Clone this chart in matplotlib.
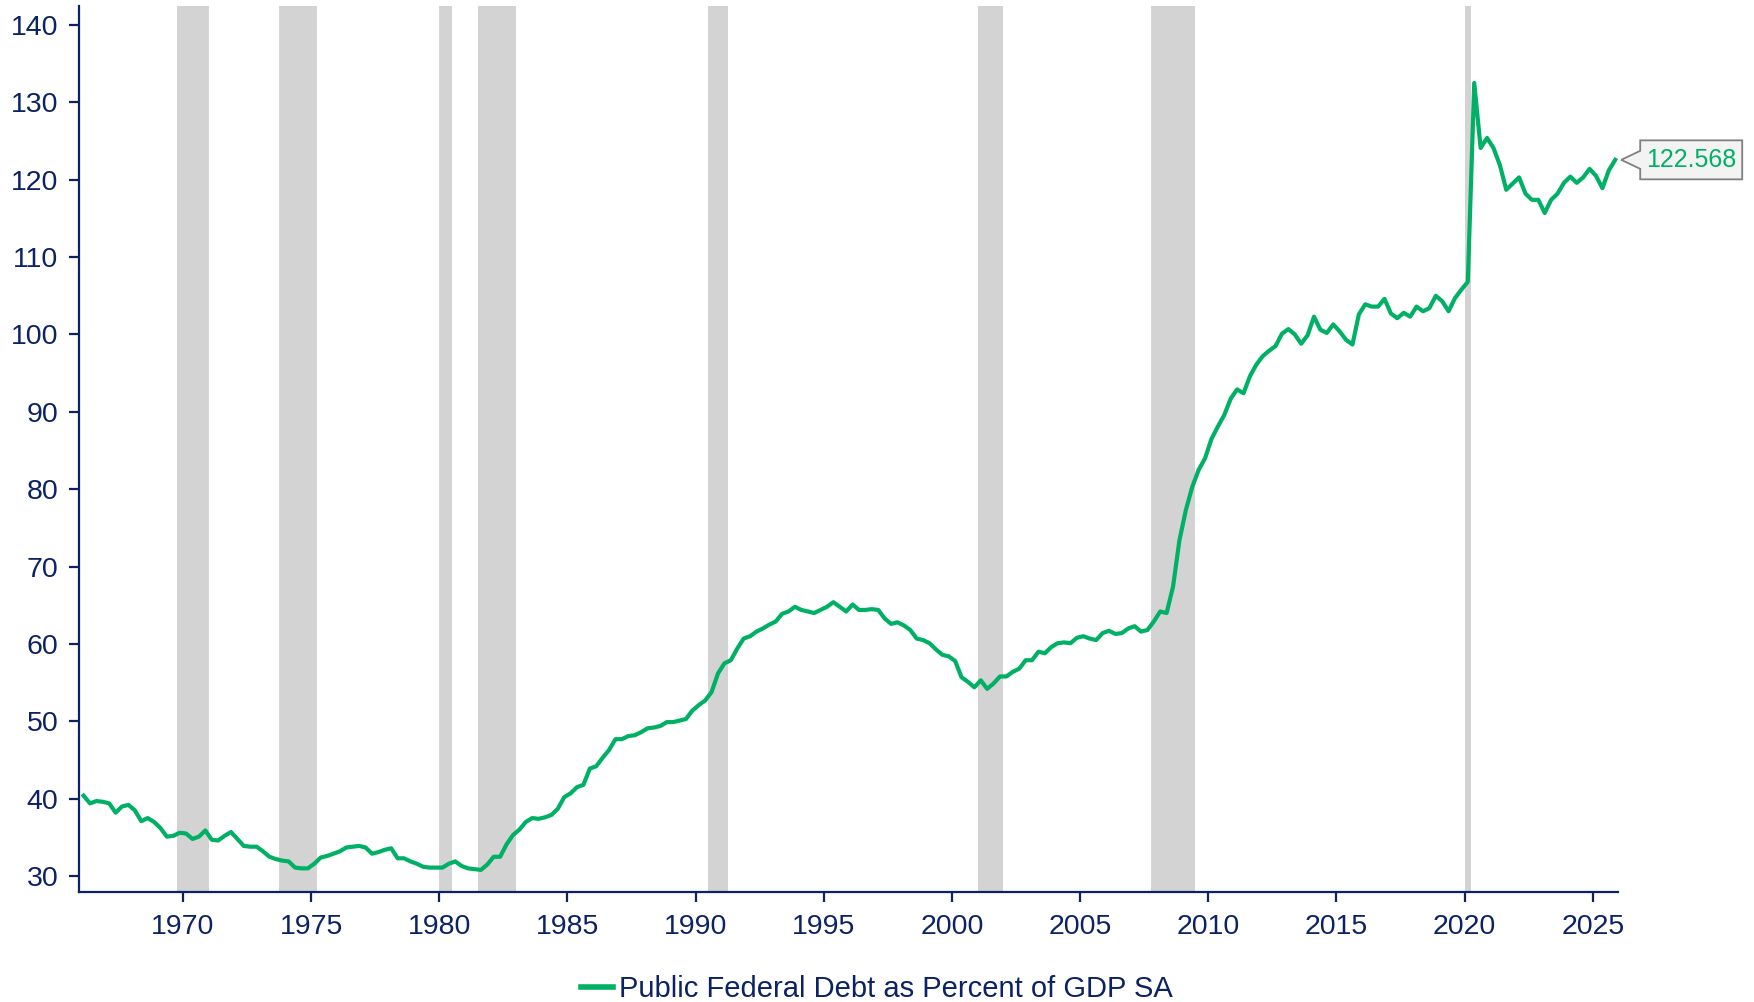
import numpy as np
import pandas as pd
import matplotlib
matplotlib.use("Agg")
import matplotlib.pyplot as plt
from matplotlib.lines import Line2D
from matplotlib.patches import Polygon

# quarterly, 1966Q1 .. 2025Q4 (one row per year)
debt = [
    40.4, 39.4, 39.7, 39.6,   # 1966
    39.4, 38.2, 39.0, 39.2,
    38.5, 37.1, 37.5, 37.0,
    36.2, 35.1, 35.2, 35.6,
    35.5, 34.8, 35.1, 35.9,   # 1970
    34.7, 34.6, 35.2, 35.7,
    34.8, 33.9, 33.8, 33.8,
    33.2, 32.5, 32.2, 32.0,
    31.9, 31.1, 31.0, 31.0,
    31.6, 32.4, 32.6, 32.9,   # 1975
    33.2, 33.7, 33.8, 33.9,
    33.7, 32.9, 33.1, 33.4,
    33.6, 32.3, 32.3, 31.9,
    31.6, 31.2, 31.1, 31.1,
    31.1, 31.6, 31.9, 31.3,   # 1980
    31.0, 30.9, 30.8, 31.5,
    32.5, 32.5, 34.1, 35.3,
    36.0, 37.0, 37.5, 37.4,
    37.6, 37.9, 38.7, 40.2,
    40.7, 41.5, 41.8, 43.9,   # 1985
    44.2, 45.3, 46.3, 47.7,
    47.7, 48.1, 48.2, 48.6,
    49.1, 49.2, 49.4, 49.9,
    49.9, 50.1, 50.3, 51.4,
    52.1, 52.7, 53.8, 56.2,   # 1990
    57.5, 57.9, 59.4, 60.7,
    61.0, 61.6, 62.0, 62.5,
    62.9, 63.9, 64.2, 64.8,
    64.4, 64.2, 64.0, 64.4,
    64.8, 65.4, 64.8, 64.2,   # 1995
    65.1, 64.4, 64.4, 64.5,
    64.4, 63.3, 62.6, 62.8,
    62.4, 61.8, 60.7, 60.5,
    60.1, 59.3, 58.6, 58.4,
    57.8, 55.7, 55.1, 54.4,   # 2000
    55.3, 54.2, 54.9, 55.8,
    55.8, 56.4, 56.8, 57.9,
    57.9, 59.0, 58.8, 59.6,
    60.1, 60.2, 60.1, 60.8,
    61.0, 60.7, 60.5, 61.4,   # 2005
    61.7, 61.3, 61.4, 62.0,
    62.3, 61.6, 61.8, 62.9,
    64.2, 64.0, 67.4, 73.4,
    77.3, 80.3, 82.5, 84.0,
    86.5, 88.1, 89.6, 91.7,   # 2010
    92.9, 92.4, 94.6, 96.1,
    97.2, 97.9, 98.5, 100.1,
    100.7, 100.0, 98.8, 99.9,
    102.3, 100.6, 100.2, 101.3,
    100.4, 99.3, 98.7, 102.6,  # 2015
    103.9, 103.6, 103.6, 104.6,
    102.7, 102.1, 102.8, 102.3,
    103.6, 103.0, 103.4, 105.0,
    104.3, 103.0, 104.7, 105.8,
    106.8, 132.5, 124.1, 125.4,  # 2020
    124.1, 121.9, 118.7, 119.5,
    120.3, 118.2, 117.4, 117.4,
    115.7, 117.4, 118.2, 119.6,
    120.4, 119.6, 120.3, 121.4,
    120.5, 118.9, 121.2, 122.568,  # 2025
]

# recessions, first and last quarter
recessions = [
    ("1969Q4", "1970Q4"), ("1973Q4", "1975Q1"), ("1980Q1", "1980Q2"),
    ("1981Q3", "1982Q4"), ("1990Q3", "1991Q1"), ("2001Q1", "2001Q4"),
    ("2007Q4", "2009Q2"), ("2020Q1", "2020Q1"),
]

year_ticks = [1970, 1975, 1980, 1985, 1990, 1995, 2000, 2005, 2010, 2015, 2020, 2025]
value_ticks = [30, 40, 50, 60, 70, 80, 90, 100, 110, 120, 130, 140]
series_name = "Public Federal Debt as Percent of GDP SA"

navy = "#0b2265"
green = "#00b064"

plt.rcParams["font.family"] = ["Liberation Sans", "DejaVu Sans"]

quarters = pd.period_range("1966Q1", periods=len(debt), freq="Q")
x = quarters.year + (quarters.quarter - 0.5) / 4.0

fig = plt.figure(figsize=(17.54, 10.02), dpi=100)
ax = fig.add_axes([0.0448, 0.1102, 0.8779, 0.8842])

for start, end in recessions:
    ps, pe = pd.Period(start, "Q"), pd.Period(end, "Q")
    x0 = ps.year + (ps.quarter - 1) / 4.0
    x1 = pe.year + pe.quarter / 4.0
    ax.axvspan(x0, x1, color="#d3d3d3", lw=0, zorder=1)

ax.plot(x, debt, color=green, lw=3.0, zorder=3, solid_joinstyle="round")

ax.set_xlim(1965.93, 2026.0)
ax.set_ylim(28, 142.5)
ax.set_xticks(year_ticks)
ax.set_yticks(value_ticks)

for s in ["top", "right"]:
    ax.spines[s].set_visible(False)
for s in ["left", "bottom"]:
    ax.spines[s].set_color(navy)
    ax.spines[s].set_linewidth(1.6)

ax.tick_params(axis="both", colors=navy, labelcolor=navy, labelsize=20.5,
               width=1.6, length=7.5, direction="out")
ax.tick_params(axis="x", pad=9)
ax.tick_params(axis="y", pad=7)

# value callout at the end of the line
fig.canvas.draw()
px, py = ax.transData.transform((x[-1], debt[-1]))
tip = 6
bl, br, half_h, notch = 25, 127, 19.5, 9
verts = [
    (px + tip, py),
    (px + bl, py + notch),
    (px + bl, py + half_h),
    (px + br, py + half_h),
    (px + br, py - half_h),
    (px + bl, py - half_h),
    (px + bl, py - notch),
]
inv = fig.transFigure.inverted()
verts = inv.transform(verts)
callout = Polygon(verts, closed=True, facecolor="#f3f3f3", edgecolor="#808080",
                  lw=1.3, transform=fig.transFigure, zorder=5)
fig.add_artist(callout)
tx, ty = inv.transform((px + (bl + br) / 2.0, py))
fig.text(tx, ty, f"{debt[-1]:.3f}", color=green, fontsize=18,
         ha="center", va="center", zorder=6)

handle = Line2D([], [], color=green, lw=4)
fig.legend([handle], [series_name], loc="center", bbox_to_anchor=(0.5, 0.0125),
           frameon=False, fontsize=21, labelcolor=navy,
           handlelength=1.1, handletextpad=0.2)

fig.savefig("out.png", dpi=100)
